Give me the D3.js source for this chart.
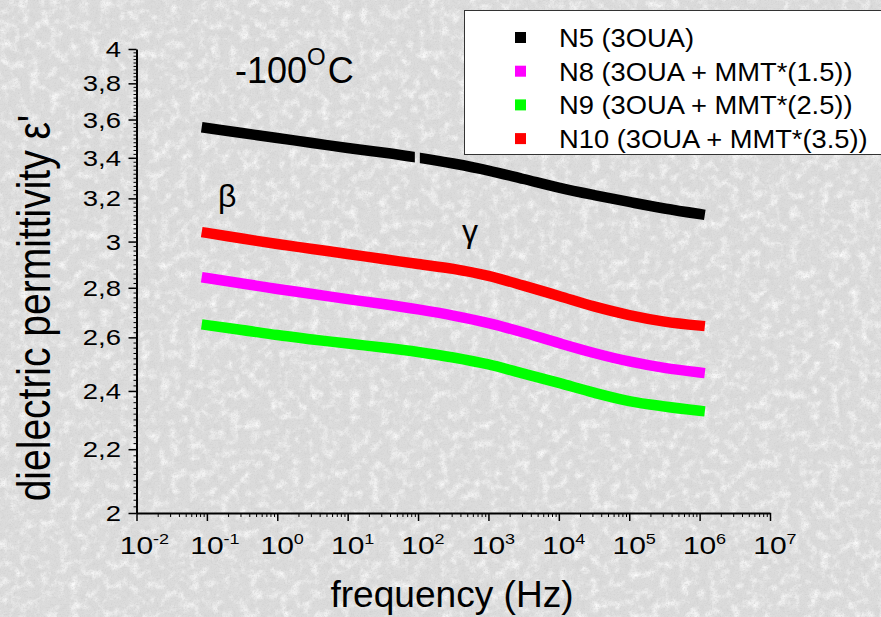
<!DOCTYPE html>
<html>
<head>
<meta charset="utf-8">
<script src="https://cdn.jsdelivr.net/npm/d3@7"></script>
<style>
  html, body { margin: 0; padding: 0; background: #dcdcdc; }
  svg { display: block; font-family: "Liberation Sans", Arial, sans-serif; }
</style>
</head>
<body>
<div id="chart"></div>
<script>
// Data (frequency in Hz, permittivity values)
const freqs = [0.1, 0.316, 1, 3.16, 10, 31.6, 100, 316, 1000, 3162, 10000, 31623, 100000, 316228, 1000000];
const n5  = [3.555, 3.528, 3.502, 3.476, 3.450, 3.427, 3.401, 3.371, 3.336, 3.294, 3.252, 3.216, 3.183, 3.152, 3.126];
const n8  = [2.841, 2.818, 2.795, 2.774, 2.753, 2.733, 2.711, 2.686, 2.656, 2.619, 2.578, 2.540, 2.508, 2.484, 2.467];
const n9  = [2.648, 2.629, 2.609, 2.592, 2.576, 2.561, 2.544, 2.523, 2.497, 2.463, 2.429, 2.394, 2.364, 2.345, 2.330];
const n10 = [3.039, 3.014, 2.989, 2.967, 2.945, 2.923, 2.901, 2.880, 2.850, 2.809, 2.766, 2.723, 2.688, 2.662, 2.646];
// N5 has a couple of missing points around 100 Hz
const n5Gap = [90, 106];

const seriesNames = ["N5 (3OUA)", "N8 (3OUA + MMT*(1.5))", "N9 (3OUA + MMT*(2.5))", "N10 (3OUA + MMT*(3.5))"];
const seriesColors = ["#000000", "#ff00ff", "#00ff00", "#ff0000"];

const yTicks = [2, 2.2, 2.4, 2.6, 2.8, 3, 3.2, 3.4, 3.6, 3.8, 4];
const xTicks = [-2, -1, 0, 1, 2, 3, 4, 5, 6, 7];   // decade exponents

function init() {
    const width = 881;
    const height = 617;

    const svg = d3.select("#chart").append("svg")
        .attr("width", width)
        .attr("height", height);

    const defs = svg.append("defs");

    // mottled grey background, built from noise filters
    function noise(id, freq, oct, seed, matrix) {
        const f = defs.append("filter").attr("id", id)
            .attr("x", 0).attr("y", 0).attr("width", "100%").attr("height", "100%");
        f.append("feTurbulence")
            .attr("type", "fractalNoise")
            .attr("baseFrequency", freq)
            .attr("numOctaves", oct)
            .attr("seed", seed);
        f.append("feColorMatrix").attr("type", "matrix").attr("values", matrix);
    }
    noise("blotchLight", 0.1, 3, 4, "0 0 0 0 1  0 0 0 0 1  0 0 0 0 1  -2 0 0 0 1.08");
    noise("blotchDark", 0.16, 4, 9, "0 0 0 0 0.65  0 0 0 0 0.65  0 0 0 0 0.65  1.4 0 0 0 -0.68");
    noise("speck", 0.7, 2, 2, "0 0 0 0 0.58  0 0 0 0 0.58  0 0 0 0 0.58  1.3 0 0 0 -0.62");

    svg.append("rect").attr("width", width).attr("height", height).attr("fill", "#dcdcdc");
    ["blotchLight", "blotchDark", "speck"].forEach(function(id) {
        svg.append("rect").attr("width", width).attr("height", height).attr("filter", `url(#${id})`);
    });

    // scales
    const x = d3.scaleLog().domain([1e-2, 1e7]).range([136.5, 770]);
    const y = d3.scaleLog().domain([2, 4]).range([513, 49]);

    drawAxes(svg, x, y);

    // gap mask for N5
    const mask = defs.append("mask").attr("id", "n5mask");
    mask.append("rect").attr("width", width).attr("height", height).attr("fill", "white");
    mask.append("rect")
        .attr("x", x(n5Gap[0]))
        .attr("width", x(n5Gap[1]) - x(n5Gap[0]))
        .attr("y", 0).attr("height", height)
        .attr("fill", "black");

    const line = d3.line()
        .x(d => x(d[0]))
        .y(d => y(d[1]))
        .curve(d3.curveCatmullRom);

    const allSeries = [n5, n8, n9, n10];
    allSeries.forEach(function(vals, i) {
        const path = svg.append("path")
            .datum(freqs.map((fq, j) => [fq, vals[j]]))
            .attr("d", line)
            .attr("fill", "none")
            .attr("stroke", seriesColors[i])
            .attr("stroke-width", 10.5)
            .attr("stroke-linecap", "square");
        if (i === 0) path.attr("mask", "url(#n5mask)");
    });

    // annotations
    const t = svg.append("text")
        .attr("x", 235).attr("y", 83)
        .attr("font-size", 36)
        .attr("fill", "#000");
    t.append("tspan").text("-100");
    t.append("tspan").attr("font-size", 24).attr("dy", -18).text("O");
    t.append("tspan").attr("dy", 18).attr("dx", 2).text("C");

    svg.append("text").attr("x", 218).attr("y", 207)
        .attr("font-size", 32).text("β");
    svg.append("text").attr("x", 462).attr("y", 242)
        .attr("font-size", 32).text("γ");

    // axis titles
    svg.append("text")
        .attr("x", 452).attr("y", 607)
        .attr("text-anchor", "middle")
        .attr("font-size", 36)
        .text("frequency (Hz)")
        .call(stretch, 1.03);

    svg.append("text")
        .attr("transform", "translate(50,308) scale(1.2,1) rotate(-90)")
        .attr("text-anchor", "middle")
        .attr("font-size", 39)
        .text("dielectric permittivity ε'");

    addLegend(svg);
}

// stretch a text element horizontally, like the reference tick labels
function stretch(sel, k) {
    sel.each(function() {
        const len = this.getComputedTextLength();
        d3.select(this)
            .attr("textLength", len * k)
            .attr("lengthAdjust", "spacingAndGlyphs");
    });
}

function drawAxes(svg, x, y) {
    // minor ticks
    const yMinor = d3.range(2.02, 3.99, 0.02).filter(v => Math.abs(v * 5 - Math.round(v * 5)) > 1e-6);
    const xMinor = [];
    for (let e = -2; e < 7; e++) {
        for (let m = 2; m <= 9; m++) xMinor.push(m * Math.pow(10, e));
    }

    svg.append("g")
        .attr("transform", "translate(136.5,0)")
        .call(d3.axisLeft(y).tickValues(yMinor).tickSize(3).tickFormat(""))
        .call(g => g.select(".domain").remove())
        .selectAll("line").attr("stroke", "#000").attr("stroke-width", 1);

    svg.append("g")
        .attr("transform", "translate(0,513)")
        .call(d3.axisBottom(x).tickValues(xMinor).tickSize(4).tickFormat(""))
        .call(g => g.select(".domain").remove())
        .selectAll("line").attr("stroke", "#000").attr("stroke-width", 1);

    // major ticks + domain
    const yAxis = svg.append("g")
        .attr("transform", "translate(136.5,0)")
        .call(d3.axisLeft(y).tickValues(yTicks).tickSize(8).tickSizeOuter(0).tickFormat(""));
    yAxis.select(".domain").attr("stroke", "#000").attr("stroke-width", 2);
    yAxis.selectAll("line").attr("stroke", "#000").attr("stroke-width", 1.5);

    const xAxis = svg.append("g")
        .attr("transform", "translate(0,513)")
        .call(d3.axisBottom(x).tickValues(xTicks.map(e => Math.pow(10, e))).tickSize(8).tickSizeOuter(0).tickFormat(""));
    xAxis.select(".domain").attr("stroke", "#000").attr("stroke-width", 2);
    xAxis.selectAll("line").attr("stroke", "#000").attr("stroke-width", 1.5);

    // y tick labels with comma decimals
    svg.append("g").selectAll("text")
        .data(yTicks)
        .join("text")
        .attr("x", 121)
        .attr("y", d => y(d) + 8)
        .attr("text-anchor", "end")
        .attr("font-size", 22)
        .text(d => d3.format("~g")(d).replace(".", ","))
        .call(stretch, 1.25);

    // x tick labels: 10 with superscript exponent
    const xl = svg.append("g").selectAll("g")
        .data(xTicks)
        .join("g")
        .attr("transform", e => `translate(${x(Math.pow(10, e))},0)`);
    xl.append("text")
        .attr("x", 0).attr("y", 554)
        .attr("text-anchor", "middle")
        .attr("font-size", 24)
        .text("10")
        .call(stretch, 1.25);
    xl.append("text")
        .attr("x", 16.5).attr("y", 544)
        .attr("font-size", 15)
        .text(e => String(e))
        .call(stretch, 1.2);
}

function addLegend(svg) {
    const lg = svg.append("g").attr("class", "legend");
    lg.append("rect")
        .attr("x", 464.5).attr("y", 10.5)
        .attr("width", 440).attr("height", 144)
        .attr("fill", "#ffffff")
        .attr("stroke", "#333")
        .attr("stroke-width", 1);

    const rows = lg.selectAll("g.row")
        .data(seriesNames)
        .join("g")
        .attr("class", "row")
        .attr("transform", (d, i) => `translate(0,${37.5 + i * 33.7})`);
    rows.append("rect")
        .attr("x", 515).attr("y", -5.5)
        .attr("width", 11).attr("height", 11)
        .attr("fill", (d, i) => seriesColors[i]);
    rows.append("text")
        .attr("x", 559).attr("y", 9.5)
        .attr("font-size", 26)
        .text(d => d)
        .call(stretch, 1.05);
}

window.addEventListener('load', init);
</script>
</body>
</html>
